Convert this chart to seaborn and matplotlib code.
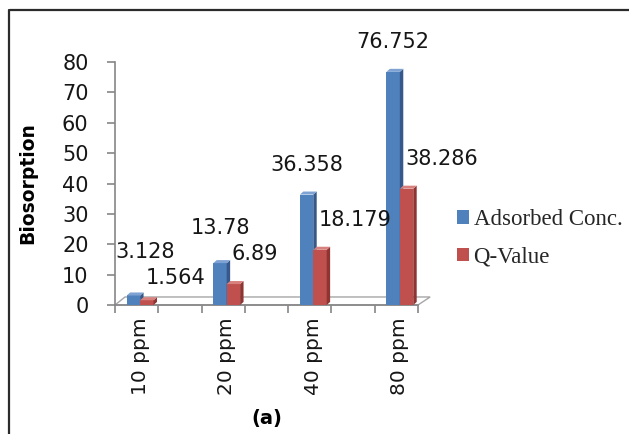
import numpy as np
import pandas as pd
import seaborn as sns
import matplotlib
matplotlib.use("Agg")
import matplotlib.pyplot as plt
from matplotlib.patches import Polygon, Patch
from matplotlib.lines import Line2D

# --- data -------------------------------------------------------------
concentrations = ["10 ppm", "20 ppm", "40 ppm", "80 ppm"]
adsorbed_conc = [3.128, 13.78, 36.358, 76.752]
q_value = [1.564, 6.89, 18.179, 38.286]
series_names = ["Adsorbed Conc.", "Q-Value"]
y_ticks = [0, 10, 20, 30, 40, 50, 60, 70, 80]

df = pd.DataFrame({
    "conc": concentrations * 2,
    "value": adsorbed_conc + q_value,
    "series": [series_names[0]] * 4 + [series_names[1]] * 4,
})

# --- style ------------------------------------------------------------
sns.set_theme(style="white")
plt.rcParams["font.family"] = ["DejaVu Sans"]

face_colors = ["#4F81BD", "#C0504D"]
side_colors = ["#36598A", "#8E3532"]
top_colors = ["#7EA3D3", "#D8807D"]
axis_gray = "#868686"
text_col = "#161616"

DPI = 100
fig = plt.figure(figsize=(6.29, 4.34), dpi=DPI)
fig.patch.set_facecolor("white")
W, H = 629, 434
left, right, bottom, top = 115, 418, 305, 62
ax = fig.add_axes([left / W, 1 - bottom / H, (right - left) / W, (bottom - top) / H])

sns.barplot(data=df, x="conc", y="value", hue="series", order=concentrations,
            hue_order=series_names, palette=face_colors, saturation=1,
            width=0.31, ax=ax, legend=False, linewidth=0, zorder=3)

ax.set_xlim(-0.29, 3.21)
ax.set_ylim(0, 80)

# 3-D look: a side face and a top face on each bar
dx, dy = 0.04, 1.0
bar_tops = {}
for s_idx, container in enumerate(ax.containers):
    for c_idx, bar in enumerate(container):
        x0 = bar.get_x()
        x1 = x0 + bar.get_width()
        h = bar.get_height()
        z = 3 + c_idx * 2 + s_idx * 0.5
        bar.set_zorder(z)
        side = Polygon([(x1, 0), (x1, h), (x1 + dx, h + dy), (x1 + dx, dy)],
                       closed=True, facecolor=side_colors[s_idx], edgecolor="none",
                       zorder=z + 0.1)
        cap = Polygon([(x0, h), (x1, h), (x1 + dx, h + dy), (x0 + dx, h + dy)],
                      closed=True, facecolor=top_colors[s_idx], edgecolor="none",
                      zorder=z + 0.2)
        ax.add_patch(side)
        ax.add_patch(cap)
        bar_tops[(s_idx, c_idx)] = (x0 + bar.get_width() / 2, h)

# value labels: ~30 px above each bar; the first series' label is lifted
# when it would collide with its neighbour's label
lift_px = 30
to_pt = 72 / DPI
for c_idx in range(len(concentrations)):
    bx, bh = bar_tops[(0, c_idx)]
    rx, rh = bar_tops[(1, c_idx)]
    b_px = ax.transData.transform((bx, bh))
    r_px = ax.transData.transform((rx, rh))
    red_center = r_px[1] + lift_px * 0.75 if c_idx == 0 else r_px[1] + lift_px
    blue_center = b_px[1] + lift_px
    if blue_center - red_center < 24:
        blue_center = red_center + 26
    t = ax.annotate(f"{bh:g}", xy=(bx, bh),
                    xytext=(0, (blue_center - b_px[1]) * to_pt),
                    textcoords="offset points", ha="center", va="center",
                    fontsize=15, color=text_col, zorder=20, annotation_clip=False)
    # keep the label to the right of the value axis
    fig.canvas.draw()
    ext = t.get_window_extent()
    axis_x = ax.transAxes.transform((0, 0))[0]
    if ext.x0 < axis_x:
        t.set_ha("left")
        t.xyann = ((axis_x - b_px[0]) * to_pt, t.xyann[1])
    ax.annotate(f"{rh:g}", xy=(rx, rh),
                xytext=(-1, (red_center - r_px[1]) * to_pt),
                textcoords="offset points", ha="left", va="center",
                fontsize=15, color=text_col, zorder=20, annotation_clip=False)

# floor of the 3-D plot area
floor = Polygon([(0, 0), (1, 0), (1.04, 0.033), (0.033, 0.033)], closed=True,
                transform=ax.transAxes, facecolor="white", edgecolor="#A6A6A6",
                linewidth=1.0, zorder=1, clip_on=False)
ax.add_patch(floor)

# axes
for side_name in ["top", "right"]:
    ax.spines[side_name].set_visible(False)
for side_name in ["left", "bottom"]:
    ax.spines[side_name].set_color(axis_gray)
    ax.spines[side_name].set_linewidth(1.2)

ax.set_yticks(y_ticks)
ax.set_yticklabels([str(t) for t in y_ticks])
ax.tick_params(axis="y", direction="out", length=6, width=1.2, color=axis_gray,
               pad=13, labelsize=15, labelcolor=text_col, left=True)
ax.set_xticks(range(len(concentrations)))
ax.set_xticklabels(concentrations, rotation=90, fontsize=14.5, color=text_col)
ax.tick_params(axis="x", which="major", length=0, pad=9)
ax.set_xticks([-0.29 + 0.5 * k for k in range(8)], minor=True)
ax.tick_params(axis="x", which="minor", direction="out", length=6, width=1.2,
               color=axis_gray, bottom=True)
ax.grid(False)

ax.set_ylabel("Biosorption", fontsize=13.5, fontweight="bold", color="black", labelpad=18)
ax.set_xlabel("(a)", fontsize=14, fontweight="bold", color="black", labelpad=10)

# legend
handles = [Patch(facecolor=c, edgecolor="none") for c in face_colors]
fig.legend(handles, series_names, loc="center left",
           bbox_to_anchor=(457 / W, 1 - 238.5 / H), frameon=False,
           prop={"family": "Liberation Serif", "size": 16.5},
           handlelength=0.52, handleheight=0.52, handletextpad=0.2,
           labelspacing=0.72, borderaxespad=0, borderpad=0)

# outer frame lines
fig.add_artist(Line2D([9.5 / W, 1.0], [1 - 9.5 / H, 1 - 9.5 / H], color="#2b2b2b",
                      linewidth=1.6, transform=fig.transFigure))
fig.add_artist(Line2D([9 / W, 9 / W], [0, 1 - 9.5 / H], color="#2b2b2b",
                      linewidth=1.6, transform=fig.transFigure))

fig.savefig("out.png", dpi=DPI, facecolor="white")
